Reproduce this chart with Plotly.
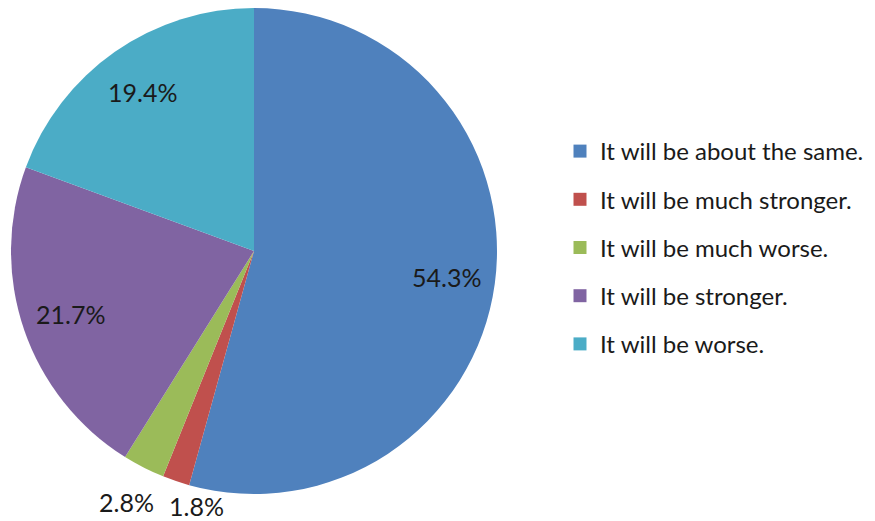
import math
import plotly.graph_objects as go

categories = ["It will be about the same.", "It will be much stronger.",
              "It will be much worse.", "It will be stronger.", "It will be worse."]
values = [54.3, 1.8, 2.8, 21.7, 19.4]
colors = ["#4F81BD", "#C0504D", "#9BBB59", "#8064A2", "#4BACC6"]

# label placement (style): radial factor and horizontal anchor per slice
label_r = [0.80, 1.11, 1.16, 0.80, 0.80]
label_xanchor = ["center", "left", "center", "center", "center"]

W, H = 875, 521
FONT = "Lato"
TXT = "#1a1a1a"
FS = 25
LEG_FS = 24

# pie geometry in figure pixels
CX, CY, R = 246, 243, 243

fig = go.Figure()
fig.add_trace(go.Pie(
    labels=categories, values=values, sort=False, direction="clockwise",
    rotation=0, marker=dict(colors=colors, line=dict(width=0)),
    textinfo="none", showlegend=False, hoverinfo="label+percent",
    domain=dict(x=[(CX - R) / W, (CX + R) / W], y=[1 - (CY + R) / H, 1 - (CY - R) / H]),
))
for i, (c, col) in enumerate(zip(categories, colors)):
    fig.add_trace(go.Scatter(
        x=[None], y=[None], mode="markers", name=c, legendgroup=str(i),
        marker=dict(symbol="square", size=13, color=col),
    ))

total = sum(values)
cum = 0.0
for v, rf, xa in zip(values, label_r, label_xanchor):
    mid = (cum + v / 2) / total * 2 * math.pi
    cum += v
    px = CX + rf * R * math.sin(mid)
    py = CY - rf * R * math.cos(mid)
    fig.add_annotation(
        x=px / W, y=1 - py / H, xref="paper", yref="paper",
        text=f"{v:.1f}%", showarrow=False, xanchor=xa, yanchor="middle",
        font=dict(family=FONT, size=FS, color=TXT),
    )

fig.update_layout(
    width=W, height=H, margin=dict(l=0, r=0, t=0, b=0),
    paper_bgcolor="white", plot_bgcolor="white",
    xaxis=dict(visible=False), yaxis=dict(visible=False),
    font=dict(family=FONT, color=TXT),
    legend=dict(x=552 / W, y=1 - 121 / H, xanchor="left", yanchor="top",
                font=dict(family=FONT, size=LEG_FS, color=TXT),
                tracegroupgap=14, itemwidth=30, bgcolor="rgba(0,0,0,0)"),
)
fig.write_html("out.html")
